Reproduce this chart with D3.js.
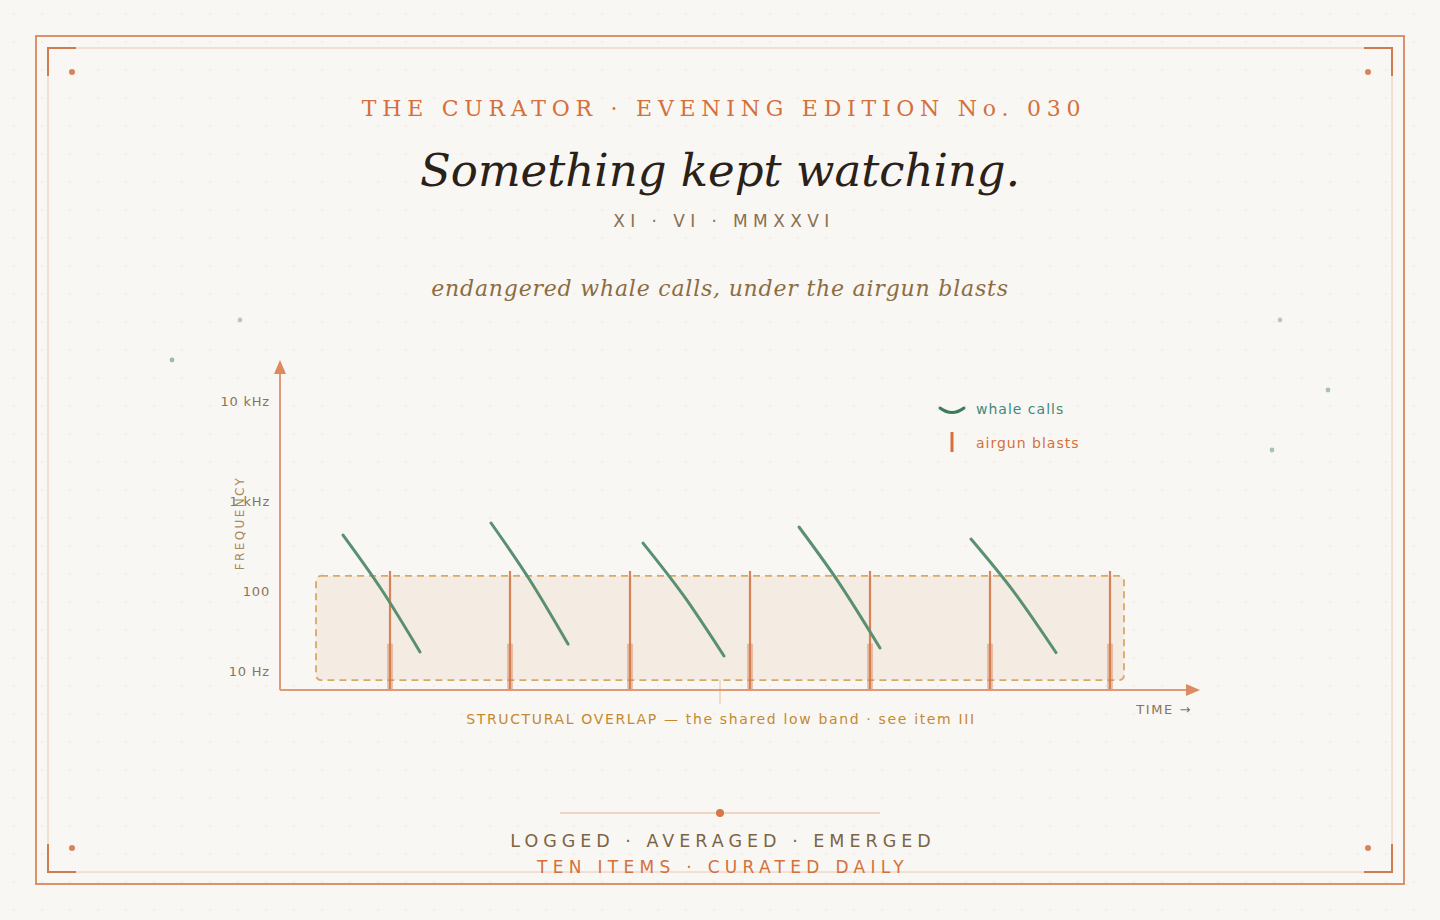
<!DOCTYPE html>
<html><head><meta charset="utf-8">
<script src="https://cdn.jsdelivr.net/npm/d3@7"></script>
<style>
html,body{margin:0;padding:0;background:#f9f7f3;}
svg{display:block;}
</style></head>
<body>
<svg id="c" width="1440" height="920"></svg>
<script>
// ---- data ----
const yTickValues = [10, 100, 1000, 10000];
const yTickLabels = ["10 Hz", "100", "1 kHz", "10 kHz"];
const blastTimes = [110, 230, 350, 470, 590, 710, 830];
const blastTopHz = 167;
const blastCoreHz = 22;
const callTimes = [[63, 101.5, 140], [211, 249.5, 288], [363, 403.5, 444], [519, 559.5, 600], [691, 733.5, 776]];
const callFreqs = [[419, 104, 17.3], [570, 134, 21.7], [341, 88, 15.4], [514, 121, 19.4], [378, 99, 17]];
const bandTimes = [36, 844];
const bandFreqs = [7.7, 147];
const legendLabels = ["whale calls", "airgun blasts"];
const sparkDots = [[240, 320, 0.55], [172, 360, 0.75], [1280, 320, 0.55], [1328, 390, 0.65], [1272, 450, 0.65]];

const W = 1440, H = 920;
const svg = d3.select("#c");
const ORANGE = "#d4784a";
const GREEN = "#3e7a5c";

// background + dot grid
const defs = svg.append("defs");
const pat = defs.append("pattern").attr("id", "grid").attr("width", 28).attr("height", 28).attr("patternUnits", "userSpaceOnUse");
pat.append("circle").attr("cx", 14).attr("cy", 14).attr("r", 1.1).attr("fill", "#f3ebe4");
svg.append("rect").attr("width", W).attr("height", H).attr("fill", "#f9f7f3");
svg.append("rect").attr("width", W).attr("height", H).attr("fill", "url(#grid)");

// frame
svg.append("rect").attr("x", 36).attr("y", 36).attr("width", 1368).attr("height", 848)
  .attr("fill", "none").attr("stroke", "#d8865c").attr("stroke-width", 1.8);
svg.append("rect").attr("x", 48).attr("y", 48).attr("width", 1344).attr("height", 824)
  .attr("fill", "none").attr("stroke", "#f0d8c8").attr("stroke-width", 1.5);
const corners = [[48, 48, 1, 1], [1392, 48, -1, 1], [48, 872, 1, -1], [1392, 872, -1, -1]];
corners.forEach(([cx, cy, sx, sy]) => {
  svg.append("path").attr("d", `M${cx + sx * 28},${cy} L${cx},${cy} L${cx},${cy + sy * 28}`)
    .attr("fill", "none").attr("stroke", "#d07a50").attr("stroke-width", 2);
  svg.append("circle").attr("cx", cx + sx * 24).attr("cy", cy + sy * 24).attr("r", 3).attr("fill", "#d8845a");
});

// sparkle dots
svg.selectAll("circle.sp").data(sparkDots).enter().append("circle")
  .attr("cx", d => d[0]).attr("cy", d => d[1]).attr("r", 2.4)
  .attr("fill", "#7aa890").attr("opacity", d => d[2]);

// header text
const serif = "'DejaVu Serif', serif";
const sans = "'DejaVu Sans', sans-serif";
function txt(x, y, s, o) {
  const t = svg.append("text").attr("x", x).attr("y", y).text(s)
    .attr("text-anchor", o.anchor || "middle").attr("dominant-baseline", "central")
    .style("font-family", o.family).style("font-size", o.size + "px").attr("fill", o.fill);
  if (o.ls) t.style("letter-spacing", o.ls + "px");
  if (o.italic) t.style("font-style", "italic");
  return t;
}
txt(724, 108, "THE CURATOR · EVENING EDITION No. 030", {family: serif, size: 22, fill: "#d4703c", ls: 5.75});
txt(720, 170, "Something kept watching.", {family: serif, size: 45, fill: "#2a2118", italic: true});
txt(724, 221, "XI · VI · MMXXVI", {family: sans, size: 17, fill: "#8a7050", ls: 5.4});
txt(720, 288, "endangered whale calls, under the airgun blasts", {family: serif, size: 22, fill: "#8c6c42", italic: true, ls: 0.8});

// ---- chart ----
const x = d3.scaleLinear().domain([0, 920]).range([280, 1200]);
const yLog = d3.scaleLinear().domain([1, 2, 3, 4]).range([671, 591, 501, 401]);
const y = v => yLog(Math.log10(v));
const x0 = 280, y0 = 690;

// band
svg.append("rect")
  .attr("x", x(bandTimes[0])).attr("y", y(bandFreqs[1]))
  .attr("width", x(bandTimes[1]) - x(bandTimes[0])).attr("height", y(bandFreqs[0]) - y(bandFreqs[1]))
  .attr("rx", 5).attr("fill", "#f4ece2").attr("stroke", "#d8a868")
  .attr("stroke-width", 1.8).attr("stroke-dasharray", "7,5");

// blasts
const bl = svg.append("g");
bl.selectAll("rect.core").data(blastTimes).enter().append("rect")
  .attr("x", d => x(d) - 3).attr("y", y(blastCoreHz)).attr("width", 6).attr("height", y0 - y(blastCoreHz))
  .attr("fill", ORANGE).attr("opacity", 0.4);
bl.selectAll("line").data(blastTimes).enter().append("line")
  .attr("x1", d => x(d)).attr("x2", d => x(d)).attr("y1", y(blastTopHz)).attr("y2", y0)
  .attr("stroke", ORANGE).attr("stroke-width", 2.2).attr("opacity", 0.9);

// whale calls
const line = d3.line().x(d => x(d[0])).y(d => y(d[1])).curve(d3.curveNatural);
svg.selectAll("path.call").data(callTimes.map((ts, i) => ts.map((t, j) => [t, callFreqs[i][j]])))
  .enter().append("path").attr("d", line)
  .attr("fill", "none").attr("stroke", "#5a8f72").attr("stroke-width", 3).attr("stroke-linecap", "round");

// annotation tick
svg.append("line").attr("x1", 720).attr("x2", 720).attr("y1", y(bandFreqs[0])).attr("y2", 704)
  .attr("stroke", "#e8cfa8").attr("stroke-width", 1.3);
txt(721, 719, "STRUCTURAL OVERLAP — the shared low band · see item III", {family: sans, size: 14, fill: "#c48a30", ls: 1.65});

// axes
const AX = "#e09a78";
svg.append("line").attr("x1", x0).attr("x2", x0).attr("y1", y0).attr("y2", 372).attr("stroke", AX).attr("stroke-width", 2);
svg.append("path").attr("d", `M${x0},360 L${x0 - 6},374 L${x0 + 6},374 Z`).attr("fill", "#dc8a62");
svg.append("line").attr("x1", x0).attr("x2", 1188).attr("y1", y0).attr("y2", y0).attr("stroke", AX).attr("stroke-width", 2);
svg.append("path").attr("d", `M1200,${y0} L1186,${y0 - 6} L1186,${y0 + 6} Z`).attr("fill", "#dc8a62");

// y tick labels
svg.selectAll("text.yt").data(yTickValues).enter().append("text")
  .attr("x", 270).attr("y", d => y(d)).attr("text-anchor", "end").attr("dominant-baseline", "central")
  .text((d, i) => yTickLabels[i]).style("font-family", sans).style("font-size", "13px")
  .style("letter-spacing", "0.8px").attr("fill", "#8a7458");

// axis titles
svg.append("text").attr("transform", "translate(240,523) rotate(-90)")
  .attr("text-anchor", "middle").attr("dominant-baseline", "central").text("FREQUENCY")
  .style("font-family", sans).style("font-size", "12px").style("letter-spacing", "2.4px").attr("fill", "#a88a58");
txt(1192, 709, "TIME →", {family: sans, size: 13, fill: "#8a7458", ls: 1.6, anchor: "end"});

// legend
svg.append("path").attr("d", "M940,408 Q952,417 964,408").attr("fill", "none")
  .attr("stroke", GREEN).attr("stroke-width", 3).attr("stroke-linecap", "round");
svg.append("line").attr("x1", 952).attr("x2", 952).attr("y1", 432).attr("y2", 452)
  .attr("stroke", "#d4703c").attr("stroke-width", 3);
txt(976, 409, legendLabels[0], {family: sans, size: 14, fill: "#3e8a78", ls: 1, anchor: "start"});
txt(976, 443, legendLabels[1], {family: sans, size: 14, fill: "#d4703c", ls: 1, anchor: "start"});

// footer
svg.append("line").attr("x1", 560).attr("x2", 880).attr("y1", 813).attr("y2", 813).attr("stroke", "#eccab4").attr("stroke-width", 1.5);
svg.append("circle").attr("cx", 720).attr("cy", 813).attr("r", 4).attr("fill", "#d4784a");
txt(723, 841, "LOGGED · AVERAGED · EMERGED", {family: sans, size: 17.5, fill: "#7c6446", ls: 5.0});
txt(723, 867, "TEN ITEMS · CURATED DAILY", {family: sans, size: 17, fill: "#d4703c", ls: 5.3});
</script>
</body></html>
